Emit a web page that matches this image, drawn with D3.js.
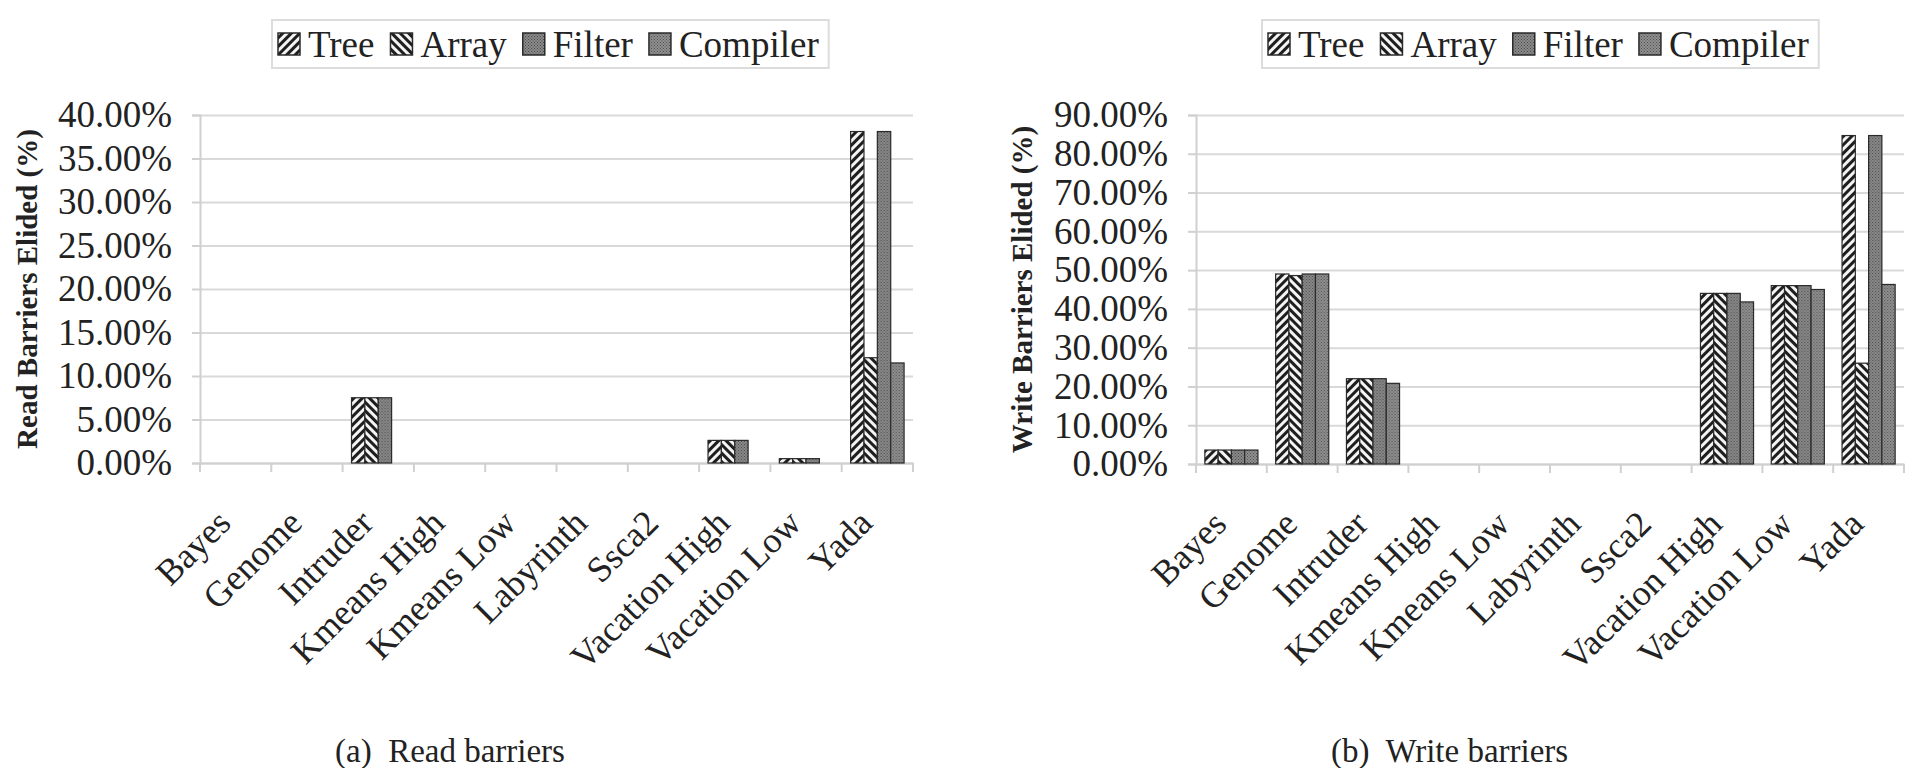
<!DOCTYPE html>
<html>
<head>
<meta charset="utf-8">
<title>Barriers elided</title>
<script src="https://d3js.org/d3.v7.min.js"></script>
<style>
  body { margin: 0; background: #fff; }
  svg text { font-family: "Liberation Serif", "Times New Roman", serif; fill: #222; }
</style>
</head>
<body>
<script>
// categories and series
var categories = ["Bayes", "Genome", "Intruder", "Kmeans High", "Kmeans Low",
                  "Labyrinth", "Ssca2", "Vacation High", "Vacation Low", "Yada"];
var seriesNames = ["Tree", "Array", "Filter", "Compiler"];

// read barriers elided (%)
var readTree     = [0, 0, 7.5, 0, 0, 0, 0, 2.6, 0.5, 38.1];
var readArray    = [0, 0, 7.5, 0, 0, 0, 0, 2.6, 0.5, 12.1];
var readFilter   = [0, 0, 7.5, 0, 0, 0, 0, 2.6, 0.5, 38.1];
var readCompiler = [0, 0, 0,   0, 0, 0, 0, 0,   0,   11.5];
var readTicks = [0, 5, 10, 15, 20, 25, 30, 35, 40];

// write barriers elided (%)
var writeTree     = [3.6, 49.0, 22.0, 0, 0, 0, 0, 44.0, 46.0, 84.7];
var writeArray    = [3.6, 48.6, 22.0, 0, 0, 0, 0, 44.0, 46.0, 26.0];
var writeFilter   = [3.6, 49.0, 22.0, 0, 0, 0, 0, 44.0, 46.0, 84.7];
var writeCompiler = [3.6, 49.0, 20.8, 0, 0, 0, 0, 41.8, 45.0, 46.3];
var writeTicks = [0, 10, 20, 30, 40, 50, 60, 70, 80, 90];

var svg = d3.select("body").append("svg")
  .attr("width", 1905)
  .attr("height", 768);

// fill patterns
var defs = svg.append("defs");
function stripes(id, angle) {
  var p = defs.append("pattern")
    .attr("id", id)
    .attr("patternUnits", "userSpaceOnUse")
    .attr("width", 6).attr("height", 6)
    .attr("patternTransform", "rotate(" + angle + ")");
  p.append("rect").attr("width", 6).attr("height", 6).attr("fill", "#f4f4f4");
  p.append("rect").attr("width", 3).attr("height", 6).attr("fill", "#1e1e1e");
}
stripes("pTree", 45);
stripes("pArray", -45);
function dots(id, base, dot) {
  var p = defs.append("pattern")
    .attr("id", id)
    .attr("patternUnits", "userSpaceOnUse")
    .attr("width", 3).attr("height", 3);
  p.append("rect").attr("width", 3).attr("height", 3).attr("fill", base);
  p.append("rect").attr("width", 1).attr("height", 1).attr("fill", dot);
  p.append("rect").attr("x", 1.5).attr("y", 1.5).attr("width", 1).attr("height", 1).attr("fill", dot);
}
dots("pFilter", "#8a8a8a", "#4a4a4a");
dots("pCompiler", "#909090", "#505050");
var fills = ["url(#pTree)", "url(#pArray)", "url(#pFilter)", "url(#pCompiler)"];

function drawChart(cfg) {
  var g = svg.append("g");
  var w = cfg.right - cfg.left;

  var x = d3.scaleBand().domain(categories).range([cfg.left, cfg.right]).padding(0);
  var xs = d3.scaleBand().domain(seriesNames)
    .range([x.bandwidth() * 0.125, x.bandwidth() * 0.875]).padding(0);
  var y = d3.scaleLinear().domain([0, cfg.max]).range([cfg.bottom, cfg.top]);

  // gridlines
  g.append("g")
    .attr("transform", "translate(" + cfg.left + ",0)")
    .call(d3.axisLeft(y).tickValues(cfg.ticks).tickSize(-w).tickFormat(""))
    .call(function(a) {
      a.select(".domain").remove();
      a.selectAll("line").attr("stroke", "#d9d9d9").attr("stroke-width", 2);
    });

  // y axis
  g.append("g")
    .attr("transform", "translate(" + cfg.left + ",0)")
    .call(d3.axisLeft(y).tickValues(cfg.ticks).tickSize(8).tickPadding(20)
      .tickFormat(function(d) { return d.toFixed(2) + "%"; }))
    .call(function(a) {
      a.select(".domain").attr("stroke", "#d0d0d0").attr("stroke-width", 2);
      a.selectAll("line").attr("stroke", "#d0d0d0").attr("stroke-width", 2);
      a.selectAll("text")
        .style("font-family", "'Liberation Serif', serif")
        .style("font-size", "37px")
        .attr("fill", "#333");
    });

  // x axis with tick marks between categories
  var xa = g.append("g")
    .attr("transform", "translate(0," + cfg.bottom + ")")
    .call(d3.axisBottom(x).tickSize(0))
    .call(function(a) {
      a.select(".domain").attr("stroke", "#d0d0d0").attr("stroke-width", 2);
      a.selectAll("text")
        .style("font-family", "'Liberation Serif', serif")
        .style("font-size", "36px")
        .attr("fill", "#333")
        .attr("x", 0).attr("y", 0).attr("dy", 0)
        .attr("text-anchor", "end")
        .attr("transform", "translate(-3,62) rotate(-45)");
    });
  xa.selectAll(".sep")
    .data(categories.map(function(c) { return x(c); }).concat([cfg.right]))
    .enter().append("line")
    .attr("class", "sep")
    .attr("x1", function(d) { return d; }).attr("x2", function(d) { return d; })
    .attr("y1", 0).attr("y2", 9)
    .attr("stroke", "#d0d0d0").attr("stroke-width", 2);

  // bars
  var rows = categories.map(function(c, i) {
    return { cat: c, vals: cfg.series.map(function(s, j) { return { name: seriesNames[j], v: s[i], k: j }; }) };
  });
  var grp = g.selectAll(".grp").data(rows).enter().append("g")
    .attr("transform", function(d) { return "translate(" + x(d.cat) + ",0)"; });
  grp.selectAll("rect")
    .data(function(d) { return d.vals.filter(function(e) { return e.v > 0; }); })
    .enter().append("rect")
    .attr("x", function(d) { return xs(d.name); })
    .attr("width", xs.bandwidth())
    .attr("y", function(d) { return y(d.v); })
    .attr("height", function(d) { return y(0) - y(d.v); })
    .attr("fill", function(d) { return fills[d.k]; })
    .attr("stroke", "#2a2a2a")
    .attr("stroke-width", 1.2);

  // y title
  g.append("text")
    .attr("transform", "translate(" + cfg.titleX + "," + ((cfg.top + cfg.bottom) / 2) + ") rotate(-90)")
    .attr("text-anchor", "middle")
    .attr("dy", "0.35em")
    .style("font-size", "29px")
    .style("font-weight", "bold")
    .text(cfg.title);

  // legend
  var lg = g.append("g");
  var box = lg.append("rect")
    .attr("x", cfg.legendX).attr("y", 20)
    .attr("height", 48)
    .attr("fill", "#fff")
    .attr("stroke", "#dcdcdc").attr("stroke-width", 2);
  var cx = cfg.legendX + 6;
  seriesNames.forEach(function(s, i) {
    lg.append("rect")
      .attr("x", cx).attr("y", 33).attr("width", 22).attr("height", 22)
      .attr("fill", fills[i]).attr("stroke", "#2a2a2a").attr("stroke-width", 1.5);
    var t = lg.append("text")
      .attr("x", cx + 30).attr("y", 57)
      .style("font-size", "37px")
      .text(s);
    cx += 30 + t.node().getComputedTextLength() + 16;
  });
  box.attr("width", cx - cfg.legendX - 6);

  // caption
  g.append("text")
    .attr("x", cfg.captionX).attr("y", 762)
    .style("font-size", "33px")
    .attr("xml:space", "preserve")
    .text(cfg.caption);
}

drawChart({
  left: 200, right: 913, top: 115, bottom: 463, max: 40, ticks: readTicks,
  series: [readTree, readArray, readFilter, readCompiler],
  title: "Read Barriers Elided (%)", titleX: 27,
  legendX: 272, caption: "(a)  Read barriers", captionX: 335
});
drawChart({
  left: 1196, right: 1904, top: 115, bottom: 464, max: 90, ticks: writeTicks,
  series: [writeTree, writeArray, writeFilter, writeCompiler],
  title: "Write Barriers Elided (%)", titleX: 1022,
  legendX: 1262, caption: "(b)  Write barriers", captionX: 1331
});
</script>
</body>
</html>
